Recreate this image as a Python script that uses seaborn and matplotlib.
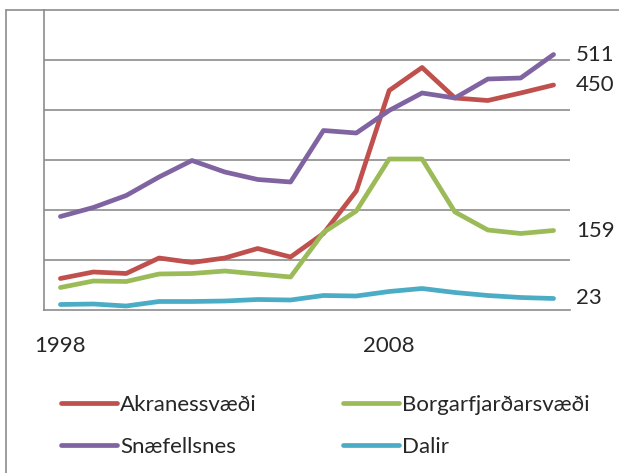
import pandas as pd
import matplotlib
matplotlib.use("Agg")
import matplotlib.pyplot as plt
import seaborn as sns
from matplotlib.lines import Line2D

# data
years = list(range(1998, 2014))
akranes = [63, 76, 73, 104, 95, 104, 123, 106, 153, 238, 439, 485, 424, 419, 434, 450]
borgarfj = [45, 58, 57, 72, 73, 78, 72, 66, 155, 198, 302, 302, 196, 160, 153, 159]
snaefellsnes = [187, 205, 229, 266, 299, 276, 261, 256, 359, 354, 399, 434, 424, 462, 464, 511]
dalir = [11, 12, 8, 17, 17, 18, 21, 20, 29, 28, 37, 43, 35, 29, 25, 23]

names = ['Akranessvæði', 'Borgarfjarðarsvæði', 'Snæfellsnes', 'Dalir']
colors = ['#C0504D', '#9BBB59', '#8064A2', '#4BACC6']

df = pd.DataFrame({'year': years, names[0]: akranes, names[1]: borgarfj,
                   names[2]: snaefellsnes, names[3]: dalir})
long_df = df.melt(id_vars='year', var_name='svaedi', value_name='value')

sns.set_style('white')
plt.rcParams['font.family'] = ['Lato', 'DejaVu Sans']

fig = plt.figure(figsize=(6.19, 4.73), dpi=100)
ax = fig.add_axes([44 / 619, 1 - 310 / 473, (570 - 44) / 619, 300 / 473])

sns.lineplot(data=long_df, x='year', y='value', hue='svaedi', hue_order=names,
             palette=colors, linewidth=3.4, ax=ax, legend=False)
for ln in ax.get_lines():
    ln.set_solid_capstyle('round')
    ln.set_solid_joinstyle('round')

ax.set_xlim(1997.5, 2013.5)
ax.set_ylim(0, 600)
ax.set_xlabel('')
ax.set_ylabel('')

# gridlines
ax.set_yticks([100, 200, 300, 400, 500])
ax.yaxis.grid(True, color='#8c8c8c', linewidth=1.2)
ax.set_yticklabels([])
ax.tick_params(axis='y', length=0)

# x ticks: marks at boundaries, labels at 1998 and 2008
ax.set_xticks([1998, 2008])
ax.set_xticklabels(['1998', '2008'], fontsize=16)
ax.set_xticks([y - 0.5 for y in years] + [2013.5], minor=True)
ax.tick_params(axis='x', which='major', length=0, pad=19)
ax.tick_params(axis='x', which='minor', length=8, width=1.2, color='#8c8c8c', direction='out')
ax.xaxis.grid(False)

for side in ['top', 'right']:
    ax.spines[side].set_visible(False)
for side in ['left', 'bottom']:
    ax.spines[side].set_color('#8c8c8c')
    ax.spines[side].set_linewidth(1.2)

# end value labels
for vals in [snaefellsnes, akranes, borgarfj, dalir]:
    ax.annotate(str(vals[-1]), xy=(years[-1], vals[-1]), xytext=(16, 0),
                textcoords='offset points', va='center', ha='left',
                fontsize=16, annotation_clip=False)

# legend
handles = [Line2D([], [], color=c, linewidth=3.4, solid_capstyle='round') for c in colors]
order = [0, 2, 1, 3]
fig.legend([handles[i] for i in order], [names[i] for i in order], ncol=2,
           loc='upper left', bbox_to_anchor=(41 / 619, 1 - 375 / 473),
           frameon=False, fontsize=16, handlelength=2.5, handletextpad=0.15,
           columnspacing=3.9, labelspacing=0.97)

# chart border on left and top
fig.add_artist(Line2D([6 / 619, 6 / 619], [0, 1 - 10 / 473], color='#8c8c8c',
                      linewidth=1.2, transform=fig.transFigure))
fig.add_artist(Line2D([6 / 619, 1], [1 - 10 / 473, 1 - 10 / 473], color='#8c8c8c',
                      linewidth=1.2, transform=fig.transFigure))

fig.savefig('out.png', dpi=100)
